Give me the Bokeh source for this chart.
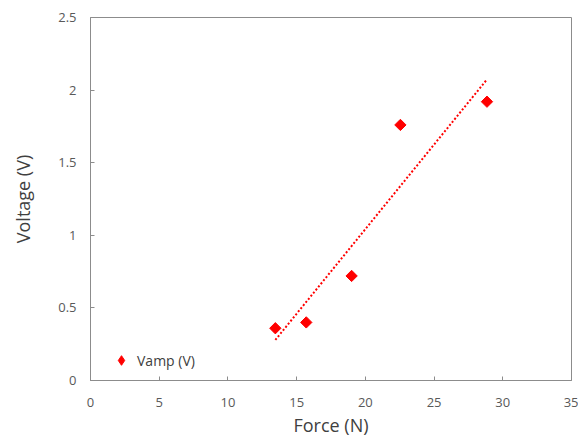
import numpy as np
from bokeh.plotting import figure
from bokeh.models import FixedTicker, Range1d, Legend, LegendItem, ColumnDataSource, Title
from bokeh.embed import file_html
from bokeh.resources import INLINE

force = [13.45, 15.7, 19.0, 22.55, 28.85]
vamp = [0.36, 0.40, 0.72, 1.76, 1.92]
x_ticks = [0, 5, 10, 15, 20, 25, 30, 35]
y_ticks = [0, 0.5, 1, 1.5, 2, 2.5]
y_tick_labels = ["0", "0.5", "1", "1.5", "2", "2.5"]

FONT = "Open Sans"
AX = "#8c8c8c"

p = figure(width=578, height=437, output_backend="svg", toolbar_location=None,
           x_range=Range1d(0, 35), y_range=Range1d(0, 2.5),
           min_border_left=90, min_border_right=7, min_border_top=17, min_border_bottom=57)
p.grid.visible = False
p.outline_line_color = AX
p.background_fill_color = "white"
p.border_fill_color = "white"

# trendline (linear least squares fit)
slope, intercept = np.polyfit(force, vamp, 1)
tx = np.array([min(force), max(force)])
ty = slope * tx + intercept
p.line(tx, ty, line_color="#ff0000", line_width=2, line_dash="2 2")

src = ColumnDataSource(dict(x=force, y=vamp))
r = p.scatter("x", "y", source=src, marker="square", angle=np.pi / 4, size=8,
              fill_color="#ff0000", line_color="#ff0000")
# hidden renderer used only for the legend swatch
leg_r = p.scatter("x", "y", source=src, marker="diamond", fill_color="#ff0000",
                  line_color="#ff0000", visible=False)

p.xaxis.ticker = FixedTicker(ticks=x_ticks)
p.yaxis.ticker = FixedTicker(ticks=y_ticks)
p.yaxis.major_label_overrides = {t: l for t, l in zip(y_ticks, y_tick_labels)}
for ax in (p.xaxis[0], p.yaxis[0]):
    ax.axis_line_color = AX
    ax.major_tick_line_color = AX
    ax.major_tick_in = 4
    ax.major_tick_out = 0
    ax.minor_tick_line_color = None
    ax.major_label_text_font = FONT
    ax.major_label_text_font_size = "13px"
    ax.major_label_text_color = "#595959"
    ax.axis_label_text_font = FONT
    ax.axis_label_text_font_size = "18px"
    ax.axis_label_text_font_style = "normal"
    ax.axis_label_text_color = "#404040"
p.yaxis.axis_label = "Voltage (V)"
p.xaxis.major_label_standoff = 17
p.yaxis.major_label_standoff = 14
p.yaxis.axis_label_standoff = 20

xt = Title(text="Force (N)", align="center", text_font=FONT, text_font_size="18px",
           text_font_style="normal", text_color="#404040", standoff=2, offset=0)
p.add_layout(xt, "below")

legend = Legend(items=[LegendItem(label="Vamp (V)", renderers=[leg_r])], location=(19, 8),
                border_line_color=None, background_fill_alpha=0,
                label_text_font=FONT, label_text_font_size="14px", label_text_color="#404040",
                glyph_width=24, glyph_height=24, label_standoff=4, padding=4)
p.add_layout(legend, "center")

open("out.html", "w").write(file_html(p, INLINE))
